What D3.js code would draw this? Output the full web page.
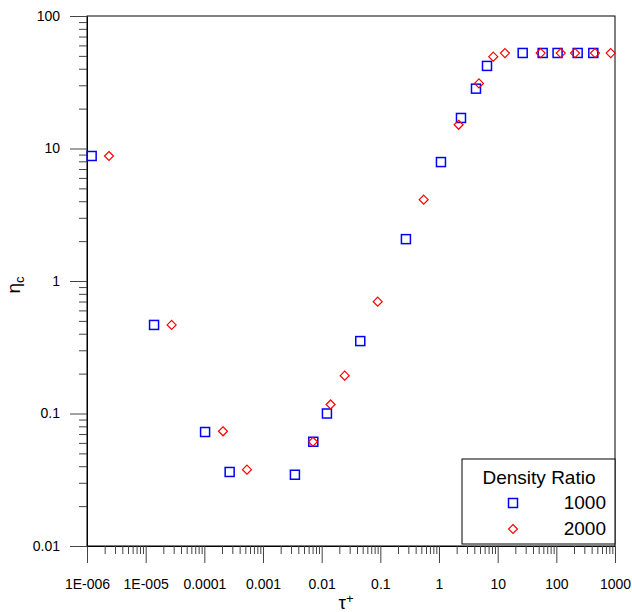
<!DOCTYPE html>
<html>
<head>
<meta charset="utf-8">
<script src="https://cdn.jsdelivr.net/npm/d3@7"></script>
<style>
  html, body { margin: 0; padding: 0; background: #fff; }
  svg { display: block; font-family: "Liberation Sans", Arial, sans-serif; }
</style>
</head>
<body>
<svg id="chart" width="632" height="612"></svg>
<script>
// ---- data ----
const xTickValues = [1e-6, 1e-5, 1e-4, 1e-3, 1e-2, 1e-1, 1, 10, 100, 1000];
const xTickLabels = ["1E-006", "1E-005", "0.0001", "0.001", "0.01", "0.1", "1", "10", "100", "1000"];
const yTickValues = [0.01, 0.1, 1, 10, 100];
const yTickLabels = ["0.01", "0.1", "1", "10", "100"];

const seriesNames = ["1000", "2000"];
const tau1000 = [1.2e-6, 1.39e-5, 1.03e-4, 2.7e-4, 3.5e-3, 7.2e-3, 0.0123, 0.0455, 0.273, 1.08, 2.37, 4.27, 6.58, 26.7, 58.5, 105, 231, 427];
const eta1000 = [8.78, 0.466, 0.0725, 0.0362, 0.0345, 0.0612, 0.100, 0.352, 2.07, 7.9, 17.0, 28.3, 42.0, 52.6, 52.6, 52.6, 52.6, 52.6];
const tau2000 = [2.37e-6, 2.77e-5, 2.08e-4, 5.33e-4, 7.1e-3, 0.0142, 0.0247, 0.0902, 0.548, 2.16, 4.8, 8.41, 13.3, 54, 119, 208, 456, 844];
const eta2000 = [8.78, 0.466, 0.0734, 0.0377, 0.0612, 0.117, 0.193, 0.698, 4.11, 15.1, 31.0, 49.3, 52.5, 52.5, 52.5, 52.5, 52.5, 52.5];

// ---- layout ----
const pL = 87, pR = 615, pT = 16, pB = 546;
const svg = d3.select("#chart");

const x = d3.scaleLog().domain([1e-6, 1000]).range([pL, pR]);
const y = d3.scaleLog().domain([0.01, 100]).range([pB, pT]);

// minor tick values
function minors(lo, hi) {
  const out = [];
  for (let e = Math.round(Math.log10(lo)); e < Math.round(Math.log10(hi)); e++) {
    for (let m = 2; m <= 9; m++) out.push(m * Math.pow(10, e));
  }
  return out;
}

// frame
svg.append("rect")
  .attr("x", pL).attr("y", pT)
  .attr("width", pR - pL).attr("height", pB - pT)
  .attr("fill", "none").attr("stroke", "#000").attr("stroke-width", 1);

// X axis
const xAxis = d3.axisBottom(x)
  .tickValues(xTickValues)
  .tickFormat((d, i) => xTickLabels[i])
  .tickSizeInner(17).tickSizeOuter(0).tickPadding(16);
const gx = svg.append("g").attr("transform", `translate(0,${pB})`).call(xAxis);
gx.select(".domain").attr("stroke", "#000");
gx.selectAll(".tick line").attr("stroke", "#444");
gx.selectAll(".tick text").attr("font-size", 14).attr("fill", "#000")
  .attr("font-family", "Liberation Sans, Arial, sans-serif");
const gxm = svg.append("g").attr("transform", `translate(0,${pB})`)
  .call(d3.axisBottom(x).tickValues(minors(1e-6, 1000)).tickFormat("").tickSizeInner(8).tickSizeOuter(0));
gxm.select(".domain").remove();
gxm.selectAll(".tick line").attr("stroke", "#444");

// Y axis
const yAxis = d3.axisLeft(y)
  .tickValues(yTickValues)
  .tickFormat((d, i) => yTickLabels[i])
  .tickSizeInner(17).tickSizeOuter(0).tickPadding(10);
const gy = svg.append("g").attr("transform", `translate(${pL},0)`).call(yAxis);
gy.select(".domain").attr("stroke", "#000");
gy.selectAll(".tick line").attr("stroke", "#444");
gy.selectAll(".tick text").attr("font-size", 14).attr("fill", "#000")
  .attr("font-family", "Liberation Sans, Arial, sans-serif");
const gym = svg.append("g").attr("transform", `translate(${pL},0)`)
  .call(d3.axisLeft(y).tickValues(minors(0.01, 100)).tickFormat("").tickSizeInner(8).tickSizeOuter(0));
gym.select(".domain").remove();
gym.selectAll(".tick line").attr("stroke", "#444");

// axis titles
const xt = svg.append("text")
  .attr("x", 346).attr("y", 609)
  .attr("text-anchor", "middle")
  .attr("font-size", 19).attr("fill", "#000");
xt.append("tspan").text("τ");
xt.append("tspan").attr("dy", -6).attr("font-size", 13).text("+");

const yt = svg.append("text")
  .attr("transform", "translate(20,285) rotate(-90)")
  .attr("text-anchor", "middle")
  .attr("font-size", 19).attr("fill", "#000");
yt.append("tspan").text("η");
yt.append("tspan").attr("dy", 4).attr("font-size", 13).text("c");

// markers
const sq = 9;
const plot = svg.append("g");
const d1 = tau1000.map((t, i) => ({ t, e: eta1000[i] }));
const d2 = tau2000.map((t, i) => ({ t, e: eta2000[i] }));

plot.selectAll("rect.s1").data(d1).enter().append("rect")
  .attr("class", "s1")
  .attr("x", d => x(d.t) - sq / 2).attr("y", d => y(d.e) - sq / 2)
  .attr("width", sq).attr("height", sq)
  .attr("fill", "none").attr("stroke", "#0000ff").attr("stroke-width", 1.5);

const diamond = (cx, cy, r) => `M${cx},${cy - r}L${cx + r},${cy}L${cx},${cy + r}L${cx - r},${cy}Z`;
plot.selectAll("path.s2").data(d2).enter().append("path")
  .attr("class", "s2")
  .attr("d", d => diamond(x(d.t), y(d.e), 4.5))
  .attr("fill", "none").attr("stroke", "#ff0000").attr("stroke-width", 1.2);

// legend
const lg = svg.append("g");
lg.append("rect")
  .attr("x", 462).attr("y", 459).attr("width", pR - 462).attr("height", 85)
  .attr("fill", "#fff").attr("stroke", "#000").attr("stroke-width", 1);
lg.append("text").attr("x", 539).attr("y", 484).attr("text-anchor", "middle")
  .attr("font-size", 19).attr("fill", "#000").text("Density Ratio");
lg.append("rect").attr("x", 513 - sq / 2).attr("y", 503 - sq / 2).attr("width", sq).attr("height", sq)
  .attr("fill", "none").attr("stroke", "#0000ff").attr("stroke-width", 1.5);
lg.append("path").attr("d", diamond(513, 529, 4.5))
  .attr("fill", "none").attr("stroke", "#ff0000").attr("stroke-width", 1.2);
lg.append("text").attr("x", 606).attr("y", 509).attr("text-anchor", "end")
  .attr("font-size", 19).attr("fill", "#000").text(seriesNames[0]);
lg.append("text").attr("x", 606).attr("y", 535).attr("text-anchor", "end")
  .attr("font-size", 19).attr("fill", "#000").text(seriesNames[1]);
</script>
</body>
</html>
